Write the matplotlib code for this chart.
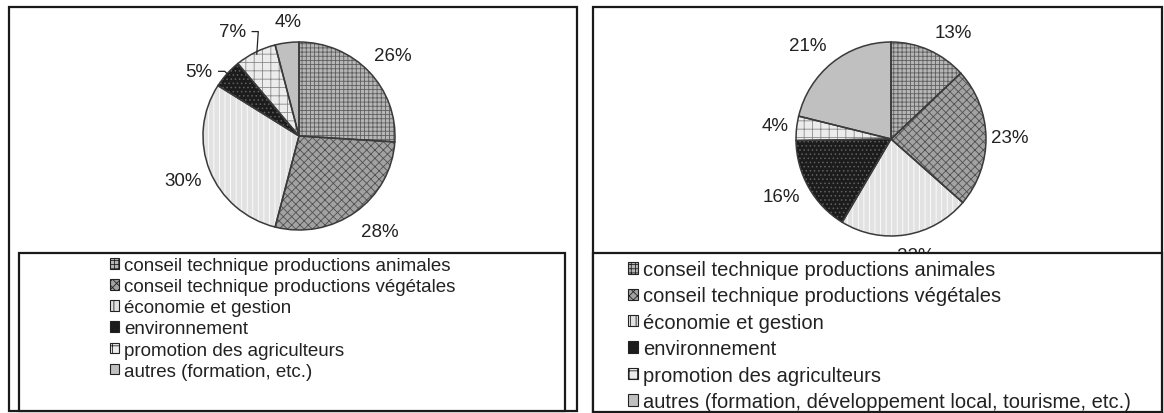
import matplotlib
matplotlib.use('Agg')
import matplotlib.pyplot as plt
from matplotlib.patches import Rectangle, Patch
import numpy as np

plt.rcParams['font.family'] = ['Liberation Sans', 'DejaVu Sans']
plt.rcParams['hatch.linewidth'] = 0.6

# ---------------- data ----------------
categories_left = ["conseil technique productions animales",
                   "conseil technique productions végétales",
                   "économie et gestion",
                   "environnement",
                   "promotion des agriculteurs",
                   "autres (formation, etc.)"]
values_left = [26, 28, 30, 5, 7, 4]

categories_right = ["conseil technique productions animales",
                    "conseil technique productions végétales",
                    "économie et gestion",
                    "environnement",
                    "promotion des agriculteurs",
                    "autres (formation, développement local, tourisme, etc.)"]
values_right = [13, 23, 22, 16, 4, 21]

# ---------------- styles ----------------
faces = ['#b6b6b6', '#a2a2a2', '#e2e2e2', '#1c1c1c', '#ececec', '#c0c0c0']
hatches = ['++++', 'xxxx', '|||', '....', '++', None]
hatch_cols = ['#5e5e5e', '#505050', '#ffffff', '#606060', '#8a8a8a', '#c0c0c0']

W, H = 1164, 414
fig = plt.figure(figsize=(W / 100, H / 100), dpi=100)


def pie_axes(cx, cy, rx, ry, k=1.6):
    ax = fig.add_axes([(cx - k * rx) / W, 1 - (cy + k * ry) / H,
                       2 * k * rx / W, 2 * k * ry / H])
    return ax


def draw_pie(ax, values, lab_r, lab_da, leaders, fs, k=1.6):
    wedges, _ = ax.pie(values, startangle=90, counterclock=False,
                       colors=faces,
                       wedgeprops=dict(linewidth=0))
    for w, h, hc in zip(wedges, hatches, hatch_cols):
        w.set_edgecolor(hc)
        w.set_linewidth(0)
        if h:
            w.set_hatch(h)
    ax.pie(values, startangle=90, counterclock=False,
           colors=['none'] * len(values),
           wedgeprops=dict(edgecolor='#3a3a3a', linewidth=1.1, fill=False))
    tot = float(sum(values))
    cum = 0.0
    for i, v in enumerate(values):
        mid_deg = 90 - 360 * (cum + v / 2) / tot
        cum += v
        mid = np.deg2rad(mid_deg)
        a = np.deg2rad(mid_deg + lab_da[i])
        r = lab_r[i]
        x, y = r * np.cos(a), r * np.sin(a)
        ax.text(x, y, f"{v}%", ha='center', va='center', fontsize=fs,
                color='#222222', clip_on=False)
        if leaders[i]:
            ex, ey = 0.97 * np.cos(mid), 0.97 * np.sin(mid)
            sx = x + 0.2
            ax.plot([sx, sx + 0.07, ex], [y, y, ey], color='#222222',
                    lw=0.9, clip_on=False, solid_capstyle='butt')
    ax.set_aspect('auto')
    ax.set_xlim(-k, k)
    ax.set_ylim(-k, k)
    ax.axis('off')


axL = pie_axes(299, 137, 96, 94)
draw_pie(axL, values_left,
         [1.30, 1.32, 1.30, 1.25, 1.31, 1.22],
         [-2, 3.5, 0, 8, 5, -2],
         [False, False, False, True, True, False], 13.5)

axR = pie_axes(891, 140, 95, 97)
draw_pie(axR, values_right,
         [1.28, 1.25, 1.23, 1.30, 1.23, 1.30],
         [-7, 0, 3, -3, 0, 4],
         [False] * 6, 13.5)

# ---------------- frames & legends ----------------
ov = fig.add_axes([0, 0, 1, 1], zorder=10)
ov.set_xlim(0, W)
ov.set_ylim(H, 0)
ov.axis('off')
ov.patch.set_alpha(0)

frame_c = '#1a1a1a'
ov.add_patch(Rectangle((8.5, 8), 568.5, 404, fill=False, ec=frame_c, lw=1.6))
ov.add_patch(Rectangle((19, 254), 546, 158, fc='white', ec=frame_c, lw=1.6))
ov.add_patch(Rectangle((593, 8), 569, 405, fill=False, ec=frame_c, lw=1.6))
ov.add_patch(Rectangle((593, 254), 569, 159, fc='white', ec=frame_c, lw=1.6))


def handles():
    return [Patch(facecolor=f, hatch=h, edgecolor='#222222', lw=0.8)
            for f, h in zip(faces, hatches)]


fsL = 13.5
fsR = 14.5
legL = ov.legend(handles(), categories_left, loc='upper left',
                 bbox_to_anchor=(110 / W, 1 - 258 / H),
                 bbox_transform=fig.transFigure, frameon=False,
                 fontsize=fsL, handlelength=0.5, handleheight=0.5,
                 handletextpad=0.25, labelspacing=0.22, borderpad=0,
                 borderaxespad=0)
ov.add_artist(legL)
legR = ov.legend(handles(), categories_right, loc='upper left',
                 bbox_to_anchor=(628 / W, 1 - 261 / H),
                 bbox_transform=fig.transFigure, frameon=False,
                 fontsize=fsR, handlelength=0.5, handleheight=0.5,
                 handletextpad=0.25, labelspacing=0.37, borderpad=0,
                 borderaxespad=0)
for lg in (legL, legR):
    for t in lg.get_texts():
        t.set_color('#222222')

fig.savefig('out.png', dpi=100)
